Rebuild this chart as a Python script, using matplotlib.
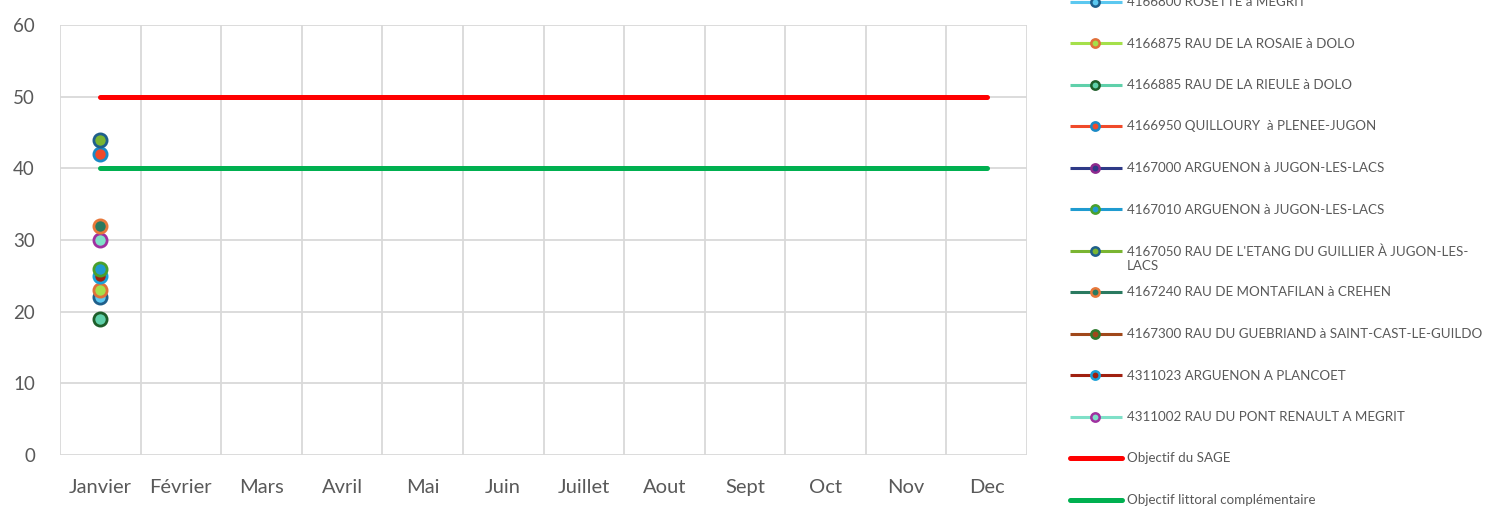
import numpy as np
import matplotlib
matplotlib.use("Agg")
import matplotlib.pyplot as plt

plt.rcParams['font.family'] = ['Lato', 'DejaVu Sans']

months = ["Janvier", "Février", "Mars", "Avril", "Mai", "Juin", "Juillet",
          "Aout", "Sept", "Oct", "Nov", "Dec"]
nan = np.nan

stations = [
    "4166800 ROSETTE à MEGRIT",
    "4166875 RAU DE LA ROSAIE à DOLO",
    "4166885 RAU DE LA RIEULE à DOLO",
    "4166950 QUILLOURY  à PLENEE-JUGON",
    "4167000 ARGUENON à JUGON-LES-LACS",
    "4167010 ARGUENON à JUGON-LES-LACS",
    "4167050 RAU DE L'ETANG DU GUILLIER À JUGON-LES-\nLACS",
    "4167240 RAU DE MONTAFILAN à CREHEN",
    "4167300 RAU DU GUEBRIAND à SAINT-CAST-LE-GUILDO",
    "4311023 ARGUENON A PLANCOET",
    "4311002 RAU DU PONT RENAULT A MEGRIT",
]
# January values (mg/L nitrates); other months have no data
janvier_values = [22, 23, 19, 42, nan, 26, 44, 32, nan, 25, 30]

line_colors = ["#5bc8f0", "#a5e04a", "#5fd0aa", "#f04a2a", "#2e3a87", "#1f9bd0",
               "#7ab531", "#2a7a60", "#a0481a", "#a02010", "#7fe0c8"]
marker_colors = ["#1f5f8b", "#e0703a", "#1e5e2a", "#1a8ac6", "#8e2a8e", "#4aa02c",
                 "#1f5f8b", "#e8783a", "#2e7a2e", "#1aa0d8", "#a030a0"]

objectif_sage = [50] * 12
objectif_littoral = [40] * 12

W, H = 1492, 508
fig = plt.figure(figsize=(W / 100, H / 100), dpi=100)
ax = fig.add_axes([60 / W, 53 / H, 967 / W, 430 / H])

x = np.arange(len(months))
ax.plot(x, objectif_sage, color="#ff0000", lw=3.6, solid_capstyle="round", zorder=3)
ax.plot(x, objectif_littoral, color="#00b050", lw=3.6, solid_capstyle="round", zorder=3)

order = [8, 4, 2, 0, 1, 9, 5, 10, 7, 3, 6]
for i in order:
    vals = [janvier_values[i]] + [nan] * 11
    ax.plot(x, vals, color=line_colors[i], lw=2, marker="o", markersize=9.5,
            markerfacecolor=line_colors[i], markeredgecolor=marker_colors[i],
            markeredgewidth=2.0, zorder=4 + order.index(i))

ax.set_xlim(-0.5, 11.5)
ax.set_ylim(0, 60)
ax.set_yticks(range(0, 61, 10))
ax.set_xticks(x)
ax.set_xticklabels(months)
ax.grid(False)
for xv in np.arange(-0.5, 12, 1):
    ax.axvline(xv, color="#d9d9d9", lw=1.3, zorder=1)
for yv in range(0, 61, 10):
    ax.axhline(yv, color="#d9d9d9", lw=1.3, zorder=1)
for s in ax.spines.values():
    s.set_visible(False)
ax.tick_params(axis="both", which="both", length=0, colors="#595959", labelsize=13.5)
ax.tick_params(axis="x", labelsize=14.5, pad=17)
ax.tick_params(axis="y", pad=18)

# Legend (manual, Excel-style uniform spacing, top entry clipped as in the source)
lax = fig.add_axes([0, 0, 1, 1])
lax.set_xlim(0, W)
lax.set_ylim(H, 0)
lax.axis("off")
labels = stations + ["Objectif du SAGE", "Objectif littoral complémentaire"]
lcols = line_colors + ["#ff0000", "#00b050"]
y0, dy = 1.5, 41.5
for k, lab in enumerate(labels):
    yy = y0 + dy * k
    if k < len(stations):
        lax.plot([1070, 1122], [yy, yy], color=lcols[k], lw=2.2, solid_capstyle="butt")
        lax.plot([1095], [yy], marker="o", markersize=6, color=lcols[k],
                 markerfacecolor=lcols[k], markeredgecolor=marker_colors[k],
                 markeredgewidth=1.8)
    else:
        lax.plot([1070, 1122], [yy, yy], color=lcols[k], lw=3.6, solid_capstyle="round")
    lax.text(1127, yy - 5.5, lab, fontsize=9.6, color="#595959", va="top",
             ha="left", linespacing=1.2)

fig.savefig("out.png", dpi=100)
